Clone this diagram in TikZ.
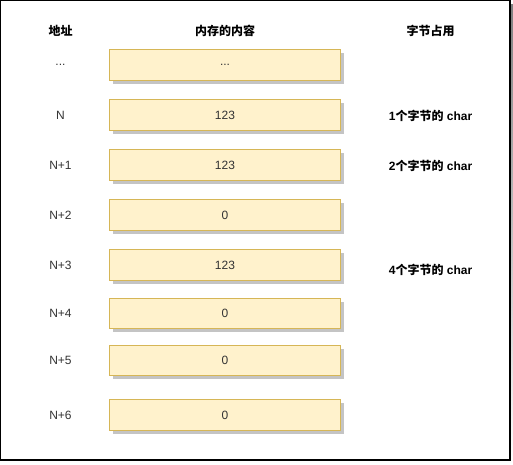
\documentclass[tikz,border=0pt]{standalone}
\usepackage{fontspec}
\setmainfont{Liberation Sans}
\newfontfamily\cjk{Noto Sans CJK SC}
\usetikzlibrary{shadows}
\definecolor{cellfill}{HTML}{FFF2CC}
\definecolor{cellline}{HTML}{D6B656}
\definecolor{shade}{HTML}{C4C4C4}
\definecolor{txt}{HTML}{333333}
\newcommand{\etcdots}{...}
\begin{document}
\begin{tikzpicture}[x=0.75pt,y=-0.75pt,font=\fontsize{9}{11}\selectfont,text=txt,
	cell/.style={draw=cellline,fill=cellfill,line width=0.75pt,minimum width=173.5pt,minimum height=22.8pt,inner sep=0pt,
		drop shadow={shadow xshift=2.6pt,shadow yshift=-2.6pt,fill=shade,opacity=1}},
	head/.style={font=\fontsize{9}{11}\selectfont\cjk\bfseries,text=black},
	size/.style={font=\fontsize{9}{11}\selectfont\bfseries,text=black}]
		\useasboundingbox (0,0) rectangle (513,464);
		\fill[shade] (3,4) rectangle (513,464);
		\draw[line width=1.1pt,fill=white] (0.75,0.75) rectangle (510,460);
		\node[head] (addrhead) at (60.5,30.5) {地址};
		\node[head] (cellhead) at (225,30.5) {内存的内容};
		\node[head] (sizehead) at (430.5,30.5) {字节占用};
		\foreach \i/\addr/\val/\y in {0/\etcdots/\etcdots/65,1/N/123/115,2/N+1/123/165,3/N+2/0/215,4/N+3/123/265,5/N+4/0/313.5,6/N+5/0/360.5,7/N+6/0/415}{
			\node (addr\i) at (60.5,\y) {\addr};
			\node[cell] (cell\i) at (225,\y) {\val};
		}
		\node[size] (size1) at (430.5,115.5) {1{\cjk 个字节的} char};
		\node[size] (size2) at (430.5,165.5) {2{\cjk 个字节的} char};
		\node[size] (size4) at (430.5,270) {4{\cjk 个字节的} char};
\end{tikzpicture}
\end{document}
